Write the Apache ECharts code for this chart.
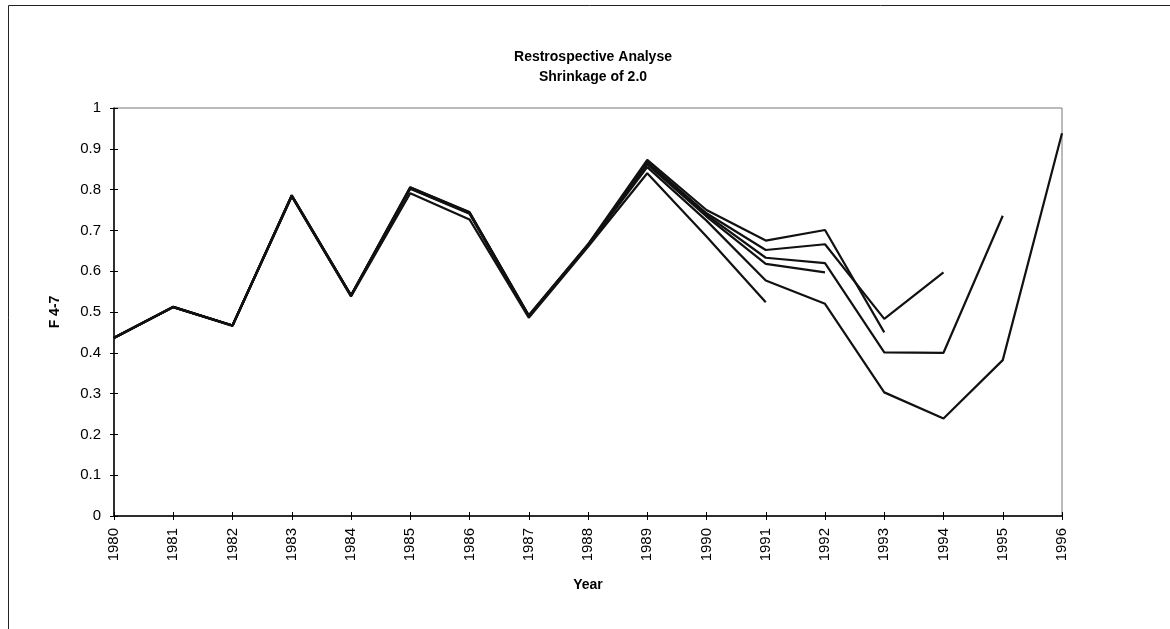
<!DOCTYPE html>
<html>
<head>
<meta charset="utf-8">
<script src="https://cdn.jsdelivr.net/npm/echarts@6/dist/echarts.min.js"></script>
<style>
  html, body { margin: 0; padding: 0; background: #fff; }
  #chart { width: 1170px; height: 629px; }
</style>
</head>
<body>
<div id="chart"></div>
<script>
// Retrospective runs of F 4-7, one line per terminal year
const years = ['1980','1981','1982','1983','1984','1985','1986','1987','1988',
               '1989','1990','1991','1992','1993','1994','1995','1996'];

const run1991 = [0.436,0.512,0.466,0.783,0.538,0.791,0.727,0.486,0.660,0.840,0.685,0.524];
const run1992 = [0.437,0.513,0.467,0.785,0.540,0.803,0.742,0.490,0.664,0.862,0.734,0.618,0.597];
const run1993 = [0.437,0.512,0.467,0.786,0.541,0.806,0.745,0.492,0.666,0.873,0.750,0.675,0.701,0.450];
const run1994 = [0.437,0.513,0.467,0.786,0.541,0.805,0.744,0.491,0.665,0.868,0.742,0.652,0.666,0.483,0.597];
const run1995 = [0.437,0.512,0.467,0.785,0.540,0.804,0.743,0.490,0.664,0.865,0.738,0.633,0.620,0.401,0.400,0.736];
const run1996 = [0.436,0.512,0.467,0.784,0.539,0.802,0.741,0.489,0.663,0.855,0.724,0.577,0.520,0.303,0.239,0.382,0.938];

const runs = [run1991, run1992, run1993, run1994, run1995, run1996];

const font = 'Liberation Sans, Arial, sans-serif';
const chart = echarts.init(document.getElementById('chart'));

const lineSeries = runs.map(r => ({
  type: 'line',
  data: r,
  showSymbol: false,
  symbol: 'none',
  lineStyle: { color: '#111', width: 2.2 },
  emphasis: { disabled: true },
  animation: false
}));

chart.setOption({
  backgroundColor: '#fff',
  animation: false,
  title: {
    text: 'Restrospective Analyse\nShrinkage of 2.0',
    left: 588,
    top: 42,
    textAlign: 'center',
    textStyle: { fontFamily: font, fontSize: 14, fontWeight: 'bold', color: '#000', lineHeight: 20 }
  },
  graphic: [{
    type: 'rect',
    shape: { x: 8.5, y: 5.5, width: 1300, height: 800 },
    style: { fill: 'none', stroke: '#222', lineWidth: 1 },
    silent: true
  }],
  grid: {
    left: 114, right: 108, top: 108, bottom: 113,
    show: true, borderColor: '#777', borderWidth: 1, backgroundColor: 'transparent'
  },
  xAxis: [{
    type: 'category',
    data: years,
    boundaryGap: false,
    name: 'Year',
    nameLocation: 'middle',
    nameGap: 62,
    nameTextStyle: { fontFamily: font, fontSize: 14, fontWeight: 'bold', color: '#000' },
    axisLine: { lineStyle: { color: '#000', width: 1.5 } },
    axisTick: { show: true, length: 4, alignWithLabel: true, lineStyle: { color: '#000' } },
    axisLabel: { rotate: 90, margin: 12, fontFamily: font, fontSize: 15, color: '#000' },
    splitLine: { show: false }
  }, {
    type: 'category',
    data: years,
    boundaryGap: false,
    position: 'bottom',
    axisLine: { show: false },
    axisTick: { show: true, inside: true, length: 4, lineStyle: { color: '#000' } },
    axisLabel: { show: false },
    splitLine: { show: false }
  }],
  yAxis: [{
    type: 'value',
    min: 0, max: 1, interval: 0.1,
    name: 'F 4-7',
    nameLocation: 'middle',
    nameGap: 52,
    nameRotate: 90,
    nameTextStyle: { fontFamily: font, fontSize: 14, fontWeight: 'bold', color: '#000' },
    axisLine: { show: true, lineStyle: { color: '#000', width: 1.5 } },
    axisTick: { show: true, length: 4, lineStyle: { color: '#000' } },
    axisLabel: { margin: 13, fontFamily: font, fontSize: 15, color: '#000',
                 formatter: v => String(Math.round(v * 10) / 10) },
    splitLine: { show: false }
  }, {
    type: 'value',
    min: 0, max: 1, interval: 0.1,
    position: 'left',
    axisLine: { show: false },
    axisTick: { show: true, inside: true, length: 4, lineStyle: { color: '#000' } },
    axisLabel: { show: false },
    splitLine: { show: false }
  }],
  series: lineSeries
});
</script>
</body>
</html>
